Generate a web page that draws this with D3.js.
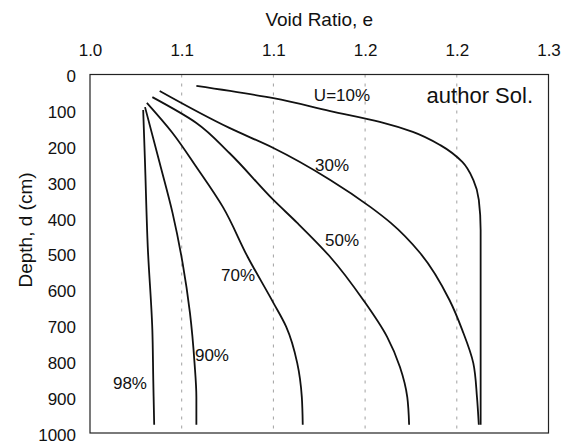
<!DOCTYPE html>
<html>
<head>
<meta charset="utf-8">
<script src="https://cdn.jsdelivr.net/npm/d3@7"></script>
<style>
  body { margin: 0; background: #fff; }
  svg text { font-family: "Liberation Sans", Arial, sans-serif; fill: #111; }
</style>
</head>
<body>
<div id="chart"></div>
<script>
// void ratio (e) vs depth (cm), one array per degree of consolidation
var curve10 = [[1.058, 32], [1.100, 66], [1.131, 102], [1.158, 132], [1.176, 160], [1.191, 197],
               [1.203, 244], [1.209, 294], [1.212, 350], [1.213, 434], [1.213, 665], [1.213, 977]];
var curve30 = [[1.038, 46], [1.076, 149], [1.100, 205], [1.131, 294], [1.153, 370], [1.164, 414],
               [1.180, 498], [1.196, 629], [1.203, 713], [1.209, 805], [1.211, 900], [1.212, 977]];
var curve50 = [[1.034, 63], [1.058, 135], [1.076, 219], [1.100, 350], [1.113, 414], [1.131, 509],
               [1.149, 629], [1.162, 732], [1.169, 816], [1.173, 900], [1.174, 977]];
var curve70 = [[1.031, 79], [1.045, 163], [1.058, 258], [1.0725, 370], [1.086, 509], [1.100, 637],
               [1.107, 704], [1.113, 805], [1.1155, 900], [1.116, 977]];
var curve90 = [[1.030, 91], [1.038, 247], [1.045, 386], [1.0505, 526], [1.0545, 665], [1.057, 805],
               [1.058, 900], [1.058, 977]];
var curve98 = [[1.029, 99], [1.030, 247], [1.0315, 481], [1.034, 713], [1.0345, 852], [1.035, 977]];

var curveNames = ["U=10%", "30%", "50%", "70%", "90%", "98%"];
// label centre in data units [e, depth]
var labelPos = [[1.1374, 57], [1.1320, 252], [1.1374, 462], [1.0807, 559], [1.0665, 782], [1.0218, 860]];

var xTicks = [1.00, 1.05, 1.10, 1.15, 1.20, 1.25];
var xTickLabels = ["1.0", "1.1", "1.1", "1.2", "1.2", "1.3"];
var yTicks = [0, 100, 200, 300, 400, 500, 600, 700, 800, 900, 1000];
var gridTicks = [1.05, 1.10, 1.15, 1.20];

var W = 564, H = 445;
var margin = {top: 74.5, right: 15.5, bottom: 12, left: 90},
    width = W - margin.left - margin.right,
    height = H - margin.top - margin.bottom;

var svg = d3.select("#chart")
    .append("svg")
    .attr("width", W)
    .attr("height", H);

var g = svg.append("g")
    .attr("transform", "translate(" + margin.left + "," + margin.top + ")");

var x = d3.scaleLinear().domain([1.0, 1.25]).range([0, width]);
var y = d3.scaleLinear().domain([0, 1000]).range([0, height]);

// faint vertical grid
g.append("g")
  .selectAll("line")
  .data(gridTicks)
  .enter().append("line")
    .attr("x1", function(d) { return x(d); })
    .attr("x2", function(d) { return x(d); })
    .attr("y1", 0)
    .attr("y2", height)
    .attr("stroke", "#a0a0a0")
    .attr("stroke-width", 1)
    .attr("stroke-dasharray", "3,6");

// axes (no tick marks, labels only)
var xAxis = g.append("g")
    .attr("font-family", null)
    .call(d3.axisTop(x).tickValues(xTicks).tickSize(0).tickPadding(19)
          .tickFormat(function(d, i) { return xTickLabels[i]; }));
xAxis.select(".domain").remove();
xAxis.selectAll("text").attr("font-size", 17);

var yAxis = g.append("g")
    .call(d3.axisLeft(y).tickValues(yTicks).tickSize(0).tickPadding(14).tickFormat(d3.format("d")));
yAxis.attr("font-family", null);
yAxis.select(".domain").remove();
yAxis.selectAll("text").attr("font-size", 17).attr("dy", "0.42em");

// frame
g.append("rect")
    .attr("width", width)
    .attr("height", height)
    .attr("fill", "none")
    .attr("stroke", "#222")
    .attr("stroke-width", 1.2);

// curves
var line = d3.line()
    .x(function(d) { return x(d[0]); })
    .y(function(d) { return y(d[1]); })
    .curve(d3.curveMonotoneY);

var curves = [curve10, curve30, curve50, curve70, curve90, curve98];
g.append("g")
  .selectAll("path")
  .data(curves)
  .enter().append("path")
    .attr("d", line)
    .attr("fill", "none")
    .attr("stroke", "#111")
    .attr("stroke-width", 1.8);

// curve labels
g.append("g")
  .selectAll("text")
  .data(curveNames)
  .enter().append("text")
    .attr("x", function(d, i) { return x(labelPos[i][0]); })
    .attr("y", function(d, i) { return y(labelPos[i][1]); })
    .attr("text-anchor", "middle")
    .attr("dy", "0.35em")
    .attr("font-size", 17)
    .text(function(d) { return d; });

g.append("text")
    .attr("x", 443)
    .attr("y", y(57))
    .attr("dy", "0.35em")
    .attr("text-anchor", "end")
    .attr("font-size", 22)
    .text("author Sol.");

// titles
svg.append("text")
    .attr("x", margin.left + width / 2)
    .attr("y", 26)
    .attr("text-anchor", "middle")
    .attr("font-size", 19)
    .text("Void Ratio, e");

svg.append("text")
    .attr("transform", "translate(32,230)rotate(-90)")
    .attr("text-anchor", "middle")
    .attr("font-size", 19)
    .text("Depth, d (cm)");
</script>
</body>
</html>
